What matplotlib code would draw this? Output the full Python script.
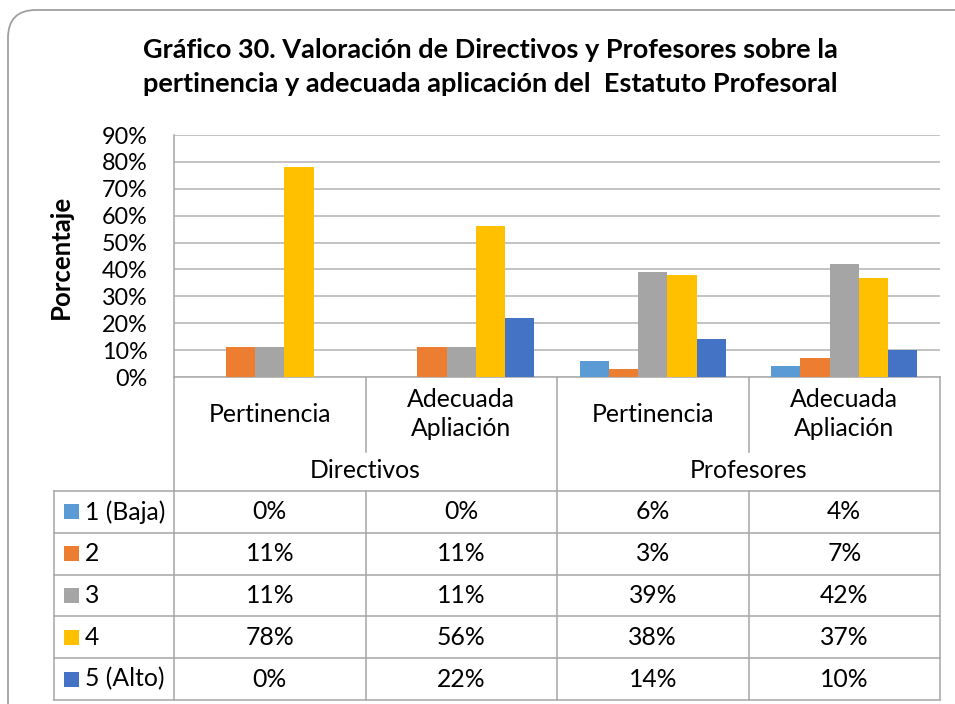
import matplotlib
matplotlib.use("Agg")
import matplotlib.pyplot as plt
from matplotlib.patches import FancyBboxPatch, Rectangle
import numpy as np

plt.rcParams['font.family'] = ['Lato', 'DejaVu Sans']

# ---------------- data ----------------
title = "Gráfico 30. Valoración de Directivos y Profesores sobre la\npertinencia y adecuada aplicación del  Estatuto Profesoral"
groups = ["Directivos", "Profesores"]
subcats = ["Pertinencia", "Adecuada\nApliación", "Pertinencia", "Adecuada\nApliación"]
series_names = ["1 (Baja)", "2", "3", "4", "5 (Alto)"]
s1 = [0, 0, 6, 4]
s2 = [11, 11, 3, 7]
s3 = [11, 11, 39, 42]
s4 = [78, 56, 38, 37]
s5 = [0, 22, 14, 10]
colors = ["#5B9BD5", "#ED7D31", "#A5A5A5", "#FFC000", "#4472C4"]
yticks = [0, 10, 20, 30, 40, 50, 60, 70, 80, 90]
ylabel = "Porcentaje"

series = [s1, s2, s3, s4, s5]

W, H = 955, 704
fig = plt.figure(figsize=(W / 100, H / 100), dpi=100)

# overlay in pixel coordinates for frame and table
ov = fig.add_axes([0, 0, 1, 1], zorder=0)
ov.set_xlim(0, W)
ov.set_ylim(H, 0)
ov.axis("off")

frame = FancyBboxPatch((8, 10), 980, 720, boxstyle="round,pad=0,rounding_size=28",
                       linewidth=1.3, edgecolor="#a0a0a0", facecolor="white")
ov.add_patch(frame)

# plot area
PL, PR, PT, PB = 174, 940, 135, 377
ax = fig.add_axes([PL / W, 1 - PB / H, (PR - PL) / W, (PB - PT) / H], zorder=1)
ax.set_facecolor("none")
n = len(subcats)
x = np.arange(n)
bw = 0.153
for i, (vals, c) in enumerate(zip(series, colors)):
    ax.bar(x + (i - 2) * bw, vals, width=bw, color=c, edgecolor="none", zorder=3)
ax.set_xlim(-0.5, n - 0.5)
ax.set_ylim(0, 90)
ax.set_yticks(yticks)
ax.set_yticklabels([f"{t}%" for t in yticks], fontsize=16.8, color="#000000")
ax.set_xticks([])
ax.yaxis.grid(True, color="#b3b3b3", linewidth=1.1, zorder=0)
for s in ["top", "right", "bottom"]:
    ax.spines[s].set_visible(False)
ax.spines["left"].set_color("#a6a6a6")
ax.spines["left"].set_linewidth(1.1)
ax.tick_params(axis="y", which="both", length=0, pad=19)

# title and y label
ov.text(490, 67, title, ha="center", va="center",
        fontsize=19.5, fontweight="bold", linespacing=1.5, color="#000000")
ov.text(61, 257, ylabel, rotation=90, ha="center", va="center",
        fontsize=18.5, fontweight="bold", color="#000000")

# ---------------- data table ----------------
lc = "#a6a6a6"
lw = 1.1
colx = [PL + (PR - PL) * k / n for k in range(n + 1)]
HEAD_B = 491
SUB_B = 452
ROW_H = (700 - HEAD_B) / len(series)
rows_y = [HEAD_B + ROW_H * k for k in range(len(series) + 1)]
LEG_L = 54

# vertical lines
ov.plot([colx[0], colx[0]], [PB, rows_y[-1]], color=lc, lw=lw)
ov.plot([colx[-1], colx[-1]], [PB, rows_y[-1]], color=lc, lw=lw)
ov.plot([colx[2], colx[2]], [PB, rows_y[-1]], color=lc, lw=lw)
for k in (1, 3):
    ov.plot([colx[k], colx[k]], [PB, SUB_B], color=lc, lw=lw)
    ov.plot([colx[k], colx[k]], [HEAD_B, rows_y[-1]], color=lc, lw=lw)
ov.plot([LEG_L, LEG_L], [HEAD_B, rows_y[-1]], color=lc, lw=lw)
# horizontal lines
ov.plot([colx[0], colx[-1]], [PB, PB], color=lc, lw=lw)
for yy in rows_y:
    ov.plot([LEG_L, colx[-1]], [yy, yy], color=lc, lw=lw)

fs = 17.8
# subcategory labels
for k, lab in enumerate(subcats):
    cx = 0.5 * (colx[k] + colx[k + 1])
    ov.text(cx, 414, lab, ha="center", va="center", fontsize=fs, linespacing=1.3)
# group labels
for g, lab in enumerate(groups):
    cx = 0.5 * (colx[2 * g] + colx[2 * g + 2])
    ov.text(cx, 471, lab, ha="center", va="center", fontsize=fs)
# rows
for i, (name, vals, c) in enumerate(zip(series_names, series, colors)):
    cy = rows_y[i] + ROW_H / 2
    ov.add_patch(Rectangle((64, cy - 7.5), 15, 15, facecolor=c, edgecolor="none"))
    ov.text(85, cy, name, ha="left", va="center", fontsize=fs)
    for k, v in enumerate(vals):
        cx = 0.5 * (colx[k] + colx[k + 1])
        ov.text(cx, cy, f"{v:.0f}%", ha="center", va="center", fontsize=fs)

fig.savefig("out.png", dpi=100)
